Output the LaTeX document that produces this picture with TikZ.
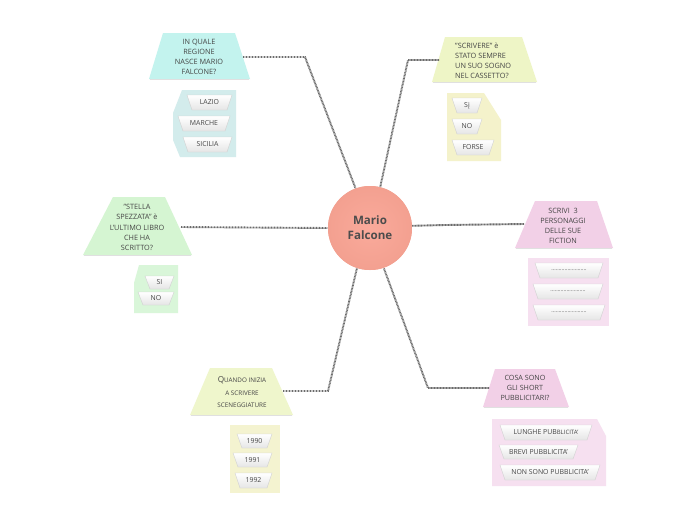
\documentclass[tikz,border=0pt]{standalone}
\usepackage{fontspec}
\setmainfont{Open Sans}
\definecolor{txtc}{HTML}{454545}
\definecolor{cyanT}{HTML}{C3F3EE}
\definecolor{cyanP}{HTML}{D3ECEC}
\definecolor{yelT}{HTML}{EEF5C6}
\definecolor{yelP}{HTML}{F4F2CB}
\definecolor{grnT}{HTML}{D5F5D2}
\definecolor{grnP}{HTML}{D9F6D9}
\definecolor{pinkT}{HTML}{F2D0E7}
\definecolor{pinkP}{HTML}{F6E0F0}
\definecolor{quaT}{HTML}{EFF6CC}
\definecolor{quaP}{HTML}{F4F3D0}
\definecolor{salmonI}{HTML}{FAAA9B}
\definecolor{salmonO}{HTML}{F3A090}
\newcommand\bigtrap[8]{%
  \path[fill=#8] (#2,#6) -- (#3,#6) -- (#5,#7) -- (#4,#7) -- cycle;
  \path[draw=black!12, line width=0.8pt] (#4+1,#7+0.6) -- (#5-1,#7+0.6);
  \coordinate (#1) at ({(#2+#3+#4+#5)/4},{(#6+#7)/2});}
\newcommand\kid[6]{%
  \path[top color=white, bottom color=black!10, draw=black!18, line width=0.4pt]
    (#2,#4) -- (#3,#4) -- (#3-5,#5) -- (#2+5,#5) -- cycle;
  \node[kidtxt] (#1) at ({(#2+#3)/2},{(#4+#5)/2}) {#6};}
\begin{document}
\begin{tikzpicture}[x=1pt,y=-1pt,
  txt/.style={text=txtc, font=\fontsize{7.3}{10}\selectfont, inner sep=0pt, align=center},
  kidtxt/.style={text=txtc, font=\fontsize{6.9}{8}\selectfont, inner sep=0pt},
  conn/.style={draw=black!58, line width=1.9pt, dash pattern=on 0.9pt off 0.6pt},
  hub/.style={circle, minimum size=84pt, inner sep=0pt, inner color=salmonI, outer color=salmonO,
    text=black!70, font=\bfseries\fontsize{11.6}{15}\selectfont, align=center}]
\useasboundingbox[fill=white] (0,0) rectangle (696,520);

% ---- big question trapezoids
\bigtrap{q1}{163}{235}{149}{250}{33}{79}{cyanT}
\bigtrap{q2}{445}{522}{432}{537}{37}{82}{yelT}
\bigtrap{q3}{113}{165}{83}{192}{197}{255}{grnT}
\bigtrap{q4}{535}{597}{515}{613}{201}{248}{pinkT}
\bigtrap{q5}{210}{272}{190}{293}{368}{415}{quaT}
\bigtrap{q6}{495}{555}{483}{569}{369}{407}{pinkT}

\node[txt] (t1) at (199,56.5) {IN QUALE\\REGIONE\\NASCE MARIO\\FALCONE?};
\node[txt, align=left, anchor=west] (t2) at (455,60.5) {"SCRIVERE" è\\STATO SEMPRE\\UN SUO SOGNO\\NEL CASSETTO?};
\node[txt, font=\fontsize{7.3}{10.3}\selectfont] (t3) at (137,227.5) {"STELLA\\SPEZZATA" è\\L'ULTIMO LIBRO\\CHE HA\\SCRITTO?};
\node[txt] (t4) at (563,225.5) {SCRIVI\ \ 3\\PERSONAGGI\\DELLE SUE\\FICTION};
\node[txt, font=\fontsize{6.3}{12.5}\selectfont] (t5) at (242,392.5)
  {{\fontsize{8.2}{10}\selectfont Q}UANDO INIZIA\\A SCRIVERE\\SCENEGGIATURE};
\node[txt, font=\fontsize{7.2}{9.6}\selectfont] (t6) at (525,388) {COSA SONO\\GLI SHORT\\PUBBLICITARI?};

% ---- answer panels
\path[fill=cyanP] (182,90) -- (236,90) -- (236,157) -- (180,157) -- (173,140) -- (173,113) -- cycle;
\path[fill=yelP] (447,93) -- (484,93) -- (501,120) -- (501,161) -- (447,161) -- cycle;
\path[fill=grnP] (139,265) -- (178,265) -- (178,313) -- (134,313) -- (134,283) -- cycle;
\path[fill=pinkP] (528,258) rectangle (609,326);
\path[fill=quaP] (230,425) rectangle (280,493);
\path[fill=pinkP] (492,419) -- (597,419) -- (606,436) -- (606,486) -- (492,486) -- cycle;

% ---- answers
\kid{a11}{187}{232}{95}{110}{LAZIO}
\kid{a12}{178}{230}{116}{131}{MARCHE}
\kid{a13}{183}{232}{137}{152}{SICILIA}
\kid{a21}{452}{482}{98}{113}{Sį}
\kid{a22}{452}{482}{119}{134}{NO}
\kid{a23}{452}{494}{140}{155}{FORSE}
\kid{a31}{145}{174}{276}{289}{SI}
\kid{a32}{138}{174}{292}{305}{NO}
\kid{a41}{535}{603}{263}{278}{\fontsize{5.5}{6}\selectfont ........................}
\kid{a42}{533}{603}{284}{299}{\fontsize{5.5}{6}\selectfont ........................}
\kid{a43}{533}{605}{305}{320}{\fontsize{5.5}{6}\selectfont ........................}
\kid{a51}{237}{272}{434}{448}{1990}
\kid{a52}{233}{272}{453}{467}{1991}
\kid{a53}{235}{272}{473}{488}{1992}
\kid{a61}{500}{592}{425}{440}{LUNGHE PUB{\fontsize{6}{7}\selectfont BLICITA'}}
\kid{a62}{499}{578}{445}{459}{BREVI PUBBLICITA'}
\kid{a63}{500}{600}{465}{480}{NON SONO PUBBLICITA'}

% ---- hub and connectors
\coordinate (e1) at (243,57);  \coordinate (k1) at (305,57);
\coordinate (e2) at (439,60);  \coordinate (k2) at (408,60);
\coordinate (e3) at (181,227);
\coordinate (e4) at (524,224); \coordinate (k4) at (445,225);
\coordinate (e5) at (283,391); \coordinate (k5) at (328,391);
\coordinate (e6) at (489,388); \coordinate (k6) at (428,388);
\node[hub] (c) at (370,228) {};
\draw[conn] (e1) -- (k1) -- (c.110);
\draw[conn] (e2) -- (k2) -- (c.76);
\draw[conn] (e3) -- (c.180);
\draw[conn] (c.3) -- (k4) -- (e4);
\draw[conn] (e5) -- (k5) -- (c.252);
\draw[conn] (e6) -- (k6) -- (c.289);
\node[hub] (cc) at (c) {Mario\\Falcone};
\end{tikzpicture}
\end{document}
